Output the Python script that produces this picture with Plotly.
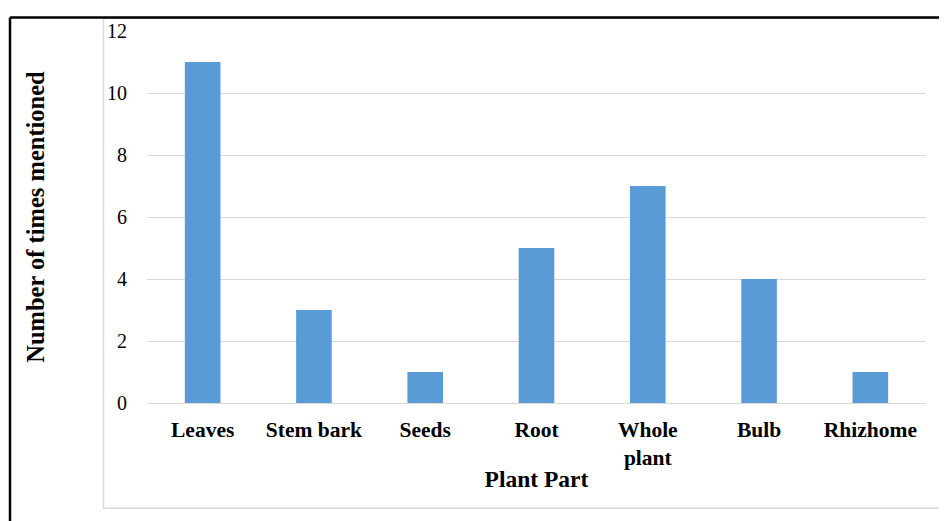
import plotly.graph_objects as go

categories = ["Leaves", "Stem bark", "Seeds", "Root", "Whole<br>plant", "Bulb", "Rhizhome"]
values = [11, 3, 1, 5, 7, 4, 1]
y_ticks = [0, 2, 4, 6, 8, 10, 12]

OFF = 8  # page body margin offset
W, H = 947 - OFF, 521 - OFF
L, R, T, B = 147 - OFF, 926 - OFF, 28.5 - OFF, 403 - OFF

def px_x(p):
    return (p - OFF - L) / (R - L)

def px_y(p):
    return (B - (p - OFF)) / (B - T)

FONT = "Liberation Serif, Times New Roman, serif"

fig = go.Figure(go.Bar(
    x=categories, y=values,
    marker=dict(color="#5B9BD5", line=dict(width=0)),
))

fig.update_layout(
    width=W, height=H,
    margin=dict(l=L, r=W - R, t=T, b=H - B),
    plot_bgcolor="white", paper_bgcolor="white",
    bargap=0.68,
    showlegend=False,
    font=dict(family=FONT, color="black"),
    xaxis=dict(
        showgrid=False, showline=True, linecolor="#d9d9d9", linewidth=1,
        ticks="outside", ticklen=7, tickcolor="rgba(0,0,0,0)",
        tickfont=dict(family=FONT, size=21.5, color="black", weight="bold"),
        title=dict(text="<b>Plant Part</b>", font=dict(family=FONT, size=23.5, color="black"), standoff=1),
        fixedrange=True,
    ),
    yaxis=dict(
        range=[0, 12], tickvals=y_ticks, showgrid=True, gridcolor="#d9d9d9", gridwidth=1,
        zeroline=False, showline=False,
        ticks="outside", ticklen=15, tickcolor="rgba(0,0,0,0)",
        tickfont=dict(family=FONT, size=20, color="black"),
        title=dict(text="<b>Number of times mentioned</b>", font=dict(family=FONT, size=24.5, color="black"), standoff=55),
    ),
    shapes=[
        # inner light-gray chart-area box
        dict(type="rect", xref="paper", yref="paper",
             x0=px_x(103.5), x1=px_x(960), y0=px_y(509), y1=px_y(16),
             line=dict(color="#d9d9d9", width=1.5), fillcolor="rgba(0,0,0,0)", layer="below"),
        # outer black frame (top and left edges)
        dict(type="line", xref="paper", yref="paper",
             x0=px_x(10), x1=px_x(960), y0=px_y(15), y1=px_y(15),
             line=dict(color="black", width=2.5)),
        dict(type="line", xref="paper", yref="paper",
             x0=px_x(10), x1=px_x(10), y0=px_y(15), y1=px_y(530),
             line=dict(color="black", width=2.5)),
    ],
)

fig.write_html("out.html")
